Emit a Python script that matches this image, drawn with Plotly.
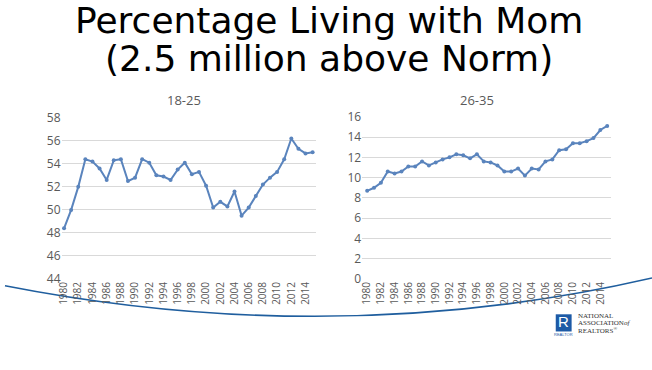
import plotly.graph_objects as go

years = list(range(1980, 2016))
age_18_25 = [48.4, 50.0, 52.0, 54.4, 54.2, 53.6, 52.6, 54.3, 54.4, 52.5,
             52.8, 54.4, 54.1, 53.0, 52.9, 52.6, 53.5, 54.1, 53.1, 53.3,
             52.1, 50.2, 50.7, 50.3, 51.6, 49.5, 50.2, 51.2, 52.2, 52.8,
             53.3, 54.4, 56.2, 55.3, 54.9, 55.0]
age_26_35 = [8.7, 9.0, 9.5, 10.6, 10.4, 10.6, 11.1, 11.1, 11.6, 11.2,
             11.5, 11.8, 12.0, 12.3, 12.2, 11.9, 12.3, 11.6, 11.5, 11.2,
             10.6, 10.6, 10.9, 10.2, 10.9, 10.8, 11.6, 11.8, 12.7, 12.8,
             13.4, 13.4, 13.6, 13.9, 14.7, 15.1]
tick_years = list(range(1980, 2016, 2))
tick_labels = [str(y) for y in tick_years]
title_lines = ["Percentage Living with Mom", "(2.5 million above Norm)"]
subtitles = ["18-25", "26-35"]
logo_lines = ["NATIONAL", "ASSOCIATION<i>of</i>", "REALTORS<sup>®</sup>"]

W, H = 652, 370
line_color = "#5a84bd"
grid_color = "#d9d9d9"
tick_color = "#595959"
logo_blue = "#1d5aa6"

def px(x):
    return x / W

def py(y):
    return 1 - y / H

fig = go.Figure()
fig.add_trace(go.Scatter(x=years, y=age_18_25, mode="lines+markers",
                         line=dict(color=line_color, width=2),
                         marker=dict(size=4, color=line_color),
                         xaxis="x", yaxis="y", showlegend=False))
fig.add_trace(go.Scatter(x=years, y=age_26_35, mode="lines+markers",
                         line=dict(color=line_color, width=2),
                         marker=dict(size=4, color=line_color),
                         xaxis="x2", yaxis="y2", showlegend=False))

xcommon = dict(tickvals=tick_years, ticktext=tick_labels, tickangle=-90,
               tickfont=dict(family="Open Sans, sans-serif", size=10, color=tick_color),
               showgrid=False, zeroline=False, showline=False, ticks="")
ycommon = dict(showgrid=True, gridcolor=grid_color, gridwidth=1, zeroline=False,
               showline=False, ticks="", dtick=2,
               tickfont=dict(family="Open Sans, sans-serif", size=12, color=tick_color))

fig.update_layout(
    width=W, height=H,
    margin=dict(l=0, r=0, t=0, b=0),
    paper_bgcolor="white", plot_bgcolor="white",
    xaxis=dict(domain=[px(57), px(313)], range=[1979.65, 2015.42], anchor="y", **xcommon),
    yaxis=dict(domain=[py(283), py(114)], range=[44, 58], anchor="x", **ycommon),
    xaxis2=dict(domain=[px(360), px(611)], range=[1979.28, 2015.6], anchor="y2", **xcommon),
    yaxis2=dict(domain=[py(283), py(113)], range=[0, 16], anchor="x2", **ycommon),
)

annotations = [
    dict(text=title_lines[0], x=px(326), y=py(12), xref="paper", yref="paper",
         showarrow=False, font=dict(family="DejaVu Sans", size=36, color="black"),
         xanchor="center", yanchor="middle"),
    dict(text=title_lines[1], x=px(326), y=py(52), xref="paper", yref="paper",
         showarrow=False, font=dict(family="DejaVu Sans", size=36, color="black"),
         xanchor="center", yanchor="middle"),
    dict(text=subtitles[0], x=px(180), y=py(95), xref="paper", yref="paper",
         showarrow=False, font=dict(family="Open Sans, sans-serif", size=13, color=tick_color),
         xanchor="center", yanchor="middle"),
    dict(text=subtitles[1], x=px(476), y=py(95), xref="paper", yref="paper",
         showarrow=False, font=dict(family="Open Sans, sans-serif", size=13, color=tick_color),
         xanchor="center", yanchor="middle"),
    dict(text="R", x=px(563), y=py(328), xref="paper", yref="paper", showarrow=False,
         font=dict(family="Liberation Sans, sans-serif", size=15, color="white"),
         xanchor="center", yanchor="middle"),
    dict(text="REALTOR", x=px(563), y=py(341), xref="paper", yref="paper", showarrow=False,
         font=dict(family="Liberation Sans, sans-serif", size=4, color=logo_blue),
         xanchor="center", yanchor="middle"),
]
for i, t in enumerate(logo_lines):
    annotations.append(dict(text=t, x=px(576), y=py(322 + 7.5 * i), xref="paper", yref="paper",
                            showarrow=False, align="left", borderpad=0,
                            font=dict(family="Liberation Serif, serif", size=7, color="#333333"),
                            xanchor="left", yanchor="middle"))
fig.update_layout(annotations=annotations)

shapes = [
    dict(type="path", xref="paper", yref="paper",
         path=f"M 0 {py(290)} Q {px(334)} {py(358)} 1 {py(282)}",
         line=dict(color="#1f5e9e", width=1.6), layer="below"),
    dict(type="rect", xref="paper", yref="paper",
         x0=px(555), x1=px(571), y0=py(338), y1=py(320),
         fillcolor=logo_blue, line=dict(width=0)),
]
fig.update_layout(shapes=shapes)

fig.write_html("out.html", config={"displayModeBar": False},
               post_script="document.body.style.margin='0';")
